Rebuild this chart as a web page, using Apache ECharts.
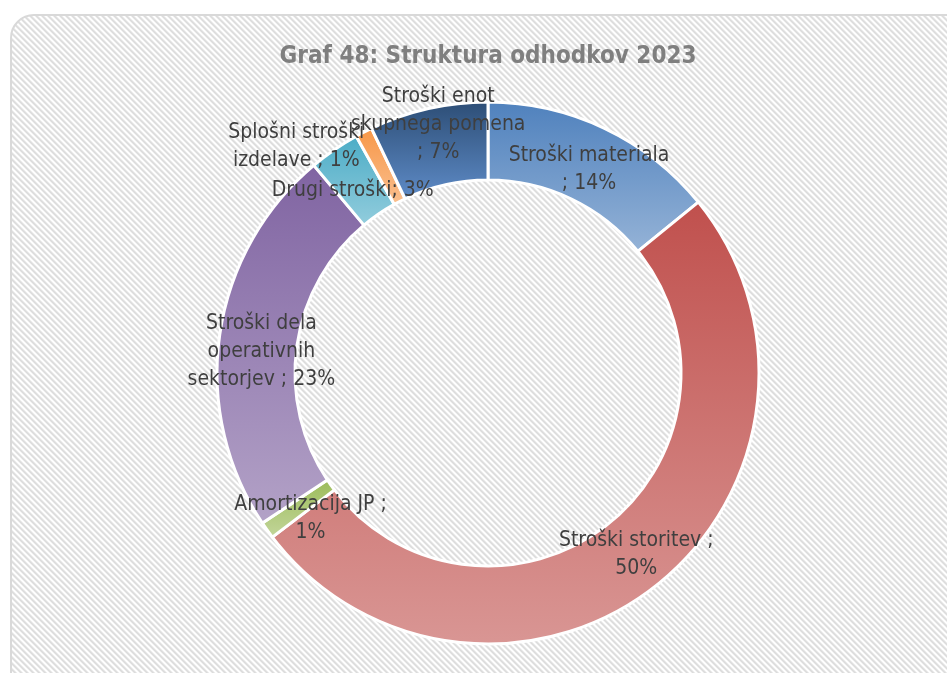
<!DOCTYPE html>
<html>
<head>
<meta charset="utf-8">
<script src="https://cdn.jsdelivr.net/npm/echarts@6/dist/echarts.min.js"></script>
<style>
  html, body { margin: 0; padding: 0; width: 947px; height: 673px; overflow: hidden; background: #ffffff; }
  #frame {
    position: absolute; left: 10px; top: 14px; width: 980px; height: 720px;
    box-sizing: border-box; border: 2px solid #d9d9d9; border-radius: 24px;
    background-color: #ffffff;
  }
  #chart { position: absolute; left: 0; top: 0; width: 947px; height: 673px; }
</style>
</head>
<body>
<div id="frame"></div>
<div id="chart"></div>
<script>
// Expense structure 2023, share of total in percent
const categories = [
  'Stroški materiala',
  'Stroški storitev',
  'Amortizacija JP',
  'Stroški dela\noperativnih\nsektorjev',
  'Drugi stroški',
  'Splošni stroški\nizdelave',
  'Stroški enot\nskupnega pomena'
];
const shares = [14, 50, 1, 23, 3, 1, 7];
// text placed between the category name and its percentage
const separators = ['\n; ', ' ;\n', ' ;\n', ' ; ', '; ', ' ; ', '\n; '];

// slice gradients: top colour, bottom colour
const topColors    = ['#4f81bd', '#c0504d', '#9bbb59', '#8064a2', '#4bacc6', '#f79646', '#2c4d75'];
const bottomColors = ['#95b3d7', '#d99694', '#c3d69b', '#b3a2c7', '#93cddd', '#fac090', '#5f8cc8'];

// small nudges for label placement inside the ring
const labelShift = [[0, 9], [3, -3], [14, 9], [6, 12], [-2, 11], [-84, -18], [2, -19]];

// diagonal hatch tile for the frame background
(function () {
  const tile = document.createElement('canvas');
  tile.width = 6; tile.height = 6;
  const ctx = tile.getContext('2d');
  const shades = ['#dcdcdc', '#e0e0e0', '#eeeeee', '#ffffff', '#ffffff', '#eeeeee'];
  for (let y = 0; y < 6; y++) {
    for (let x = 0; x < 6; x++) {
      ctx.fillStyle = shades[((x - y) % 6 + 6) % 6];
      ctx.fillRect(x, y, 1, 1);
    }
  }
  document.getElementById('frame').style.backgroundImage = 'url(' + tile.toDataURL() + ')';
})();

const chart = echarts.init(document.getElementById('chart'), null, { renderer: 'canvas' });

const data = categories.map((name, i) => ({
  name: name,
  value: shares[i],
  itemStyle: {
    color: new echarts.graphic.LinearGradient(0, 0, 0, 1, [
      { offset: 0, color: topColors[i] },
      { offset: 1, color: bottomColors[i] }
    ])
  },
  label: { formatter: name + separators[i] + shares[i] + '%' }
}));

const fontStack = '"Liberation Sans Narrow", "DejaVu Sans Condensed", sans-serif';

chart.setOption({
  backgroundColor: 'transparent',
  animation: false,
  title: {
    text: 'Graf 48: Struktura odhodkov 2023',
    left: 483,
    textAlign: 'center',
    top: 40,
    textStyle: {
      fontFamily: fontStack,
      fontWeight: 'bold',
      fontSize: 24,
      color: '#7f7f7f'
    }
  },
  series: [{
    type: 'pie',
    center: [488, 373],
    radius: [193, 271],
    startAngle: 90,
    clockwise: true,
    avoidLabelOverlap: false,
    itemStyle: { borderColor: '#ffffff', borderWidth: 3 },
    label: {
      show: true,
      position: 'inside',
      fontFamily: fontStack,
      fontSize: 21,
      lineHeight: 28,
      color: '#3f3f3f',
      align: 'center'
    },
    labelLine: { show: false },
    emphasis: { disabled: true },
    labelLayout: function (params) {
      const s = labelShift[params.dataIndex];
      return { dx: s[0], dy: s[1] };
    },
    data: data
  }]
});
</script>
</body>
</html>
